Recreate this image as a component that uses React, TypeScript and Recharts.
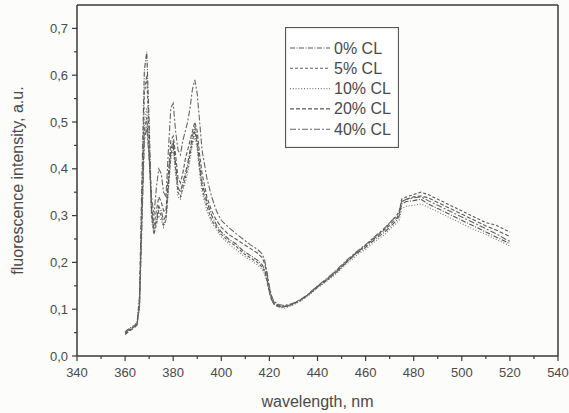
import { LineChart, Line, XAxis, YAxis, ReferenceLine, Legend } from "recharts";

// wavelengths, nm
const wavelength = [
  360, 362, 364, 365, 366, 367, 368, 369, 370,
  371, 372, 373, 374, 375, 376, 377, 378, 379, 380, 381,
  382, 383, 384, 385, 386, 387, 388, 389, 390, 391, 392,
  394, 396, 398, 400, 403, 406, 409, 412, 415,
  417, 418, 419, 420, 421, 422, 424, 426, 428, 430,
  433, 436, 440, 444, 448, 452, 456, 460, 464, 468,
  471, 473, 474, 475, 477, 480, 483, 486, 490,
  494, 498, 502, 506, 510, 514, 518, 520,
];

const cl0 = [
  0.052, 0.06, 0.066, 0.072, 0.13, 0.38, 0.61, 0.65, 0.5,
  0.31, 0.27, 0.29, 0.32, 0.31, 0.29, 0.3, 0.37, 0.44, 0.46, 0.41,
  0.36, 0.35, 0.37, 0.39, 0.41, 0.44, 0.47, 0.49, 0.46, 0.41, 0.37,
  0.33, 0.3, 0.28, 0.265, 0.25, 0.24, 0.225, 0.215, 0.205,
  0.195, 0.185, 0.165, 0.14, 0.12, 0.112, 0.106, 0.105, 0.108, 0.112,
  0.12, 0.13, 0.148, 0.163, 0.18, 0.2, 0.218, 0.232, 0.25, 0.265,
  0.28, 0.29, 0.3, 0.325, 0.33, 0.332, 0.335, 0.325, 0.315,
  0.305, 0.295, 0.285, 0.275, 0.265, 0.255, 0.245, 0.24,
];

const cl5 = [
  0.048, 0.056, 0.063, 0.068, 0.12, 0.34, 0.56, 0.6, 0.47,
  0.3, 0.26, 0.28, 0.31, 0.3, 0.28, 0.29, 0.36, 0.43, 0.45, 0.4,
  0.35, 0.34, 0.36, 0.38, 0.4, 0.43, 0.46, 0.48, 0.45, 0.4, 0.36,
  0.32, 0.29, 0.275, 0.26, 0.245, 0.235, 0.22, 0.21, 0.2,
  0.19, 0.18, 0.16, 0.135, 0.118, 0.11, 0.105, 0.104, 0.107, 0.111,
  0.119, 0.13, 0.147, 0.162, 0.18, 0.2, 0.22, 0.236, 0.255, 0.272,
  0.29, 0.3, 0.31, 0.335, 0.34, 0.345, 0.35, 0.345, 0.335,
  0.325, 0.315, 0.305, 0.295, 0.285, 0.28, 0.27, 0.265,
];

const cl10 = [
  0.05, 0.058, 0.064, 0.07, 0.115, 0.31, 0.5, 0.53, 0.44,
  0.29, 0.26, 0.285, 0.3, 0.29, 0.275, 0.29, 0.35, 0.42, 0.44, 0.39,
  0.34, 0.335, 0.355, 0.37, 0.39, 0.42, 0.45, 0.47, 0.44, 0.39, 0.35,
  0.31, 0.285, 0.27, 0.255, 0.24, 0.228, 0.215, 0.205, 0.195,
  0.185, 0.175, 0.158, 0.135, 0.118, 0.11, 0.104, 0.102, 0.105, 0.109,
  0.117, 0.128, 0.145, 0.16, 0.177, 0.196, 0.214, 0.228, 0.245, 0.26,
  0.275, 0.285, 0.29, 0.315, 0.32, 0.322, 0.325, 0.318, 0.308,
  0.298, 0.288, 0.278, 0.268, 0.26, 0.25, 0.24, 0.235,
];

const cl20 = [
  0.046, 0.054, 0.061, 0.066, 0.11, 0.3, 0.48, 0.51, 0.43,
  0.32, 0.28, 0.31, 0.34, 0.33, 0.31, 0.31, 0.39, 0.46, 0.47, 0.43,
  0.38, 0.37, 0.39, 0.42, 0.44, 0.46, 0.48, 0.5, 0.48, 0.43, 0.39,
  0.34, 0.31, 0.29, 0.275, 0.26, 0.25, 0.24, 0.23, 0.22,
  0.21, 0.198, 0.175, 0.145, 0.125, 0.114, 0.108, 0.106, 0.108, 0.112,
  0.12, 0.131, 0.149, 0.165, 0.183, 0.202, 0.22, 0.236, 0.253, 0.27,
  0.285, 0.295, 0.305, 0.33, 0.335, 0.34, 0.342, 0.338, 0.328,
  0.318, 0.308, 0.298, 0.288, 0.278, 0.27, 0.26, 0.255,
];

const cl40 = [
  0.05, 0.057, 0.064, 0.069, 0.105, 0.28, 0.46, 0.49, 0.42,
  0.34, 0.3, 0.36, 0.4, 0.39, 0.35, 0.34, 0.44, 0.53, 0.54, 0.48,
  0.44, 0.43, 0.46, 0.48, 0.5, 0.53, 0.57, 0.59, 0.56, 0.5, 0.44,
  0.38, 0.34, 0.31, 0.29, 0.275, 0.262, 0.25, 0.238, 0.228,
  0.218, 0.205, 0.18, 0.148, 0.127, 0.116, 0.11, 0.108, 0.11, 0.113,
  0.121, 0.132, 0.15, 0.166, 0.184, 0.204, 0.222, 0.238, 0.256, 0.274,
  0.29, 0.3, 0.31, 0.33, 0.335, 0.338, 0.34, 0.332, 0.322,
  0.312, 0.302, 0.292, 0.282, 0.272, 0.262, 0.25, 0.245,
];

const xTicks = [340, 350, 360, 370, 380, 390, 400, 410, 420, 430, 440, 450, 460, 470, 480, 490, 500, 510, 520, 530, 540];
const yTicks = [0, 0.05, 0.1, 0.15, 0.2, 0.25, 0.3, 0.35, 0.4, 0.45, 0.5, 0.55, 0.6, 0.65, 0.7];

const series = [
  { key: "cl0", name: "0% CL", values: cl0, dash: "5 1.5 1 1.5", color: "#555" },
  { key: "cl5", name: "5% CL", values: cl5, dash: "3 2", color: "#5a5a5a" },
  { key: "cl10", name: "10% CL", values: cl10, dash: "1 1.8", color: "#777" },
  { key: "cl20", name: "20% CL", values: cl20, dash: "4 2", color: "#5a5a5a" },
  { key: "cl40", name: "40% CL", values: cl40, dash: "6 2 2 2", color: "#666" },
];

const data = wavelength.map((wl, i) => {
  const row: Record<string, number> = { wl };
  series.forEach((s) => (row[s.key] = s.values[i]));
  return row;
});

const FONT = "'Liberation Sans', Arial, sans-serif";
const AXIS = "#3a3a3a";
const TEXT = "#4a4a4a";

const XTick = ({ x, y, payload }: any) => {
  const major = payload.value % 20 === 0;
  return (
    <g>
      <line x1={x} x2={x} y1={y} y2={y + (major ? 5 : 3)} stroke={AXIS} strokeWidth={1.2} />
      {major && (
        <text x={x} y={y + 21} textAnchor="middle" fontSize={13} fontFamily={FONT} fill={TEXT}>
          {payload.value}
        </text>
      )}
    </g>
  );
};

const YTick = ({ x, y, payload }: any) => {
  const major = Math.round(payload.value * 100) % 10 === 0;
  return (
    <g>
      <line x1={x - (major ? 5 : 3)} x2={x} y1={y} y2={y} stroke={AXIS} strokeWidth={1.2} />
      {major && (
        <text x={x - 9} y={y + 4.5} textAnchor="end" fontSize={13} fontFamily={FONT} fill={TEXT}>
          {payload.value.toFixed(1).replace(".", ",")}
        </text>
      )}
    </g>
  );
};

const renderLegend = () => (
  <svg width={114} height={121} style={{ display: "block" }}>
    <rect x={0.5} y={0.5} width={113} height={120} fill="#fff" stroke="#555" strokeWidth={1.2} />
    {series.map((s, i) => {
      const cy = 21 + 20.3 * i;
      return (
        <g key={s.key}>
          <line x1={5} x2={45} y1={cy} y2={cy} stroke={s.color} strokeWidth={1.1} strokeDasharray={s.dash} />
          <text x={49} y={cy + 5.5} fontSize={16} fontFamily={FONT} fill={TEXT}>
            {s.name}
          </text>
        </g>
      );
    })}
  </svg>
);

export default function App() {
  return (
    <div style={{ position: "absolute", left: 0, top: 0, width: 569, height: 413, background: "#fcfcfa" }}>
      <LineChart width={569} height={413} data={data} margin={{ top: 5, right: 11, bottom: 0, left: 0 }}>
        <XAxis
          type="number"
          dataKey="wl"
          domain={[340, 540]}
          ticks={xTicks}
          interval={0}
          tick={<XTick />}
          tickLine={false}
          tickSize={0}
          tickMargin={0}
          height={57}
          axisLine={{ stroke: AXIS, strokeWidth: 1.5 }}
          label={{ value: "wavelength, nm", position: "insideBottom", offset: 6, fontSize: 16, fontFamily: FONT, fill: TEXT }}
        />
        <YAxis
          type="number"
          domain={[0, 0.75]}
          ticks={yTicks}
          interval={0}
          tick={<YTick />}
          tickLine={false}
          tickSize={0}
          tickMargin={0}
          width={77}
          axisLine={{ stroke: AXIS, strokeWidth: 1.5 }}
          label={{
            value: "fluorescence intensity, a.u.",
            angle: -90,
            position: "insideLeft",
            offset: 17,
            style: { textAnchor: "middle" },
            fontSize: 16,
            fontFamily: FONT,
            fill: TEXT,
          }}
        />
        <ReferenceLine y={0.75} stroke={AXIS} strokeWidth={1.5} />
        <ReferenceLine x={540} stroke={AXIS} strokeWidth={1.5} />
        <Legend
          content={renderLegend}
          layout="horizontal"
          verticalAlign="middle"
          align="center"
          wrapperStyle={{ left: 285, top: 27, width: 114, height: 121 }}
        />
        {series.map((s) => (
          <Line
            key={s.key}
            type="linear"
            dataKey={s.key}
            name={s.name}
            stroke={s.color}
            strokeWidth={1.1}
            strokeDasharray={s.dash}
            dot={false}
            isAnimationActive={false}
          />
        ))}
      </LineChart>
    </div>
  );
}
